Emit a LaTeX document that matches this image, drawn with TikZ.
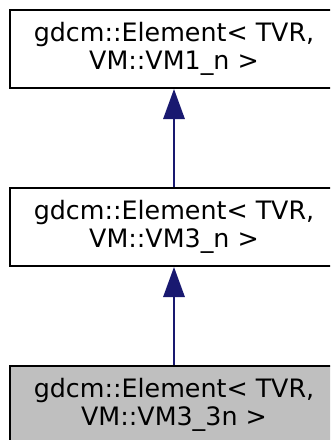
\documentclass[tikz,border=0pt]{standalone}
\usepackage{fontspec}
\setmainfont{DejaVu Sans}
\usetikzlibrary{arrows.meta}
\definecolor{edgeblue}{HTML}{191970}
\definecolor{nodegrey}{HTML}{BFBFBF}
\tikzset{every picture/.style={line width=1.5pt}}

\begin{document}
\begin{tikzpicture}[x=0.75pt,y=0.75pt,yscale=-1,xscale=1,
  classbox/.style={draw=black,rectangle,align=center,minimum width=246.75pt,minimum height=58.5pt,inner sep=0pt,font=\fontsize{19}{21}\selectfont},
  inherit/.style={draw=edgeblue,line width=1.5pt,-{Triangle[length=22.5pt,width=16pt,fill=edgeblue]}}]
%set diagram left start at 0, and has height of 440
\clip (0,0) rectangle (330,440);

%Shape: Rectangle [base class]
\node [classbox] (vm1n) at (174,49) {gdcm::Element< TVR,\\VM::VM1\_n >};
%Shape: Rectangle [middle class]
\node [classbox] (vm3n) at (174,227) {gdcm::Element< TVR,\\VM::VM3\_n >};
%Shape: Rectangle [this class]
\node [classbox,fill=nodegrey] (vm33n) at (174,405) {gdcm::Element< TVR,\\VM::VM3\_3n >};

%Straight Lines [inheritance]
\draw [inherit] (vm3n.north) -- (vm1n.south);
\draw [inherit] (vm33n.north) -- (vm3n.south);
\end{tikzpicture}
\end{document}
